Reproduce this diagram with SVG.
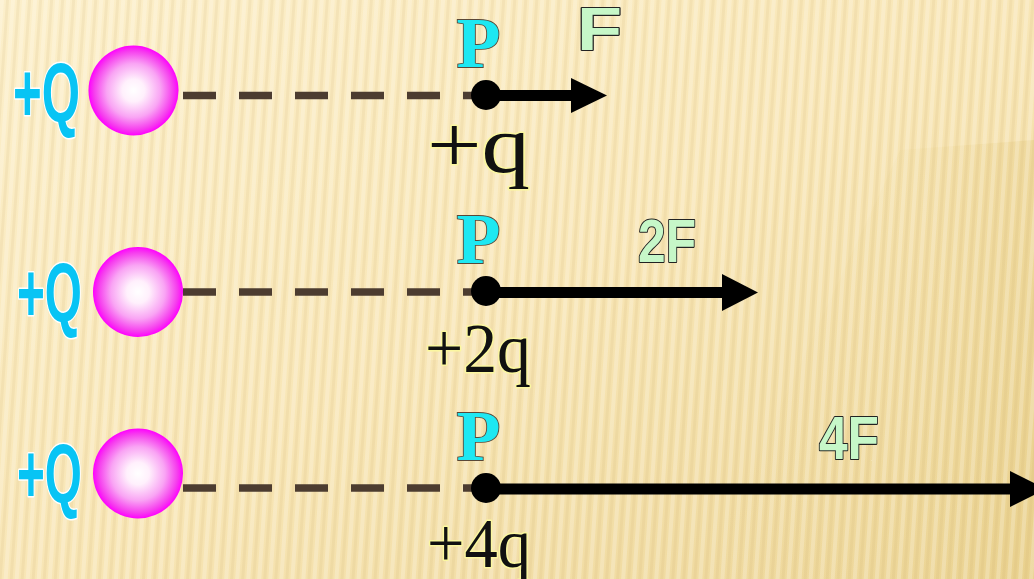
<svg xmlns="http://www.w3.org/2000/svg" width="1034" height="579" viewBox="0 0 1034 579">
<defs>
<style>
.bigq{font-family:"Liberation Sans",Arial,sans-serif;font-weight:bold;font-size:84px;fill:#08c4f4;stroke:#ffffff;stroke-width:3;paint-order:stroke;stroke-linejoin:round}
.plab{font-family:"Liberation Serif","Times New Roman",serif;font-weight:bold;font-size:72px;fill:#1ee8f2;stroke:#5a4838;stroke-width:1.8;paint-order:stroke}
.flab{font-family:"Liberation Sans",Arial,sans-serif;font-weight:bold;font-size:62px;fill:#c6f7c8;stroke:#222222;stroke-width:2.2;paint-order:stroke;stroke-linejoin:round}
.smallq{font-family:"Liberation Serif","Times New Roman",serif;fill:#111111;stroke:#fbf7a0;stroke-width:3;paint-order:stroke;stroke-linejoin:round}
.dash{stroke:#4c3c30;stroke-width:7.5;stroke-dasharray:33 23;fill:none}
.shaft{stroke:#000000;stroke-width:11;fill:none}
.head{fill:#000000}
.dot{fill:#000000}
</style>
<linearGradient id="bg" x1="0" y1="0" x2="1" y2="1">
<stop offset="0" stop-color="#fcefca"/>
<stop offset="0.5" stop-color="#f8e6b6"/>
<stop offset="1" stop-color="#ecd596"/>
</linearGradient>
<linearGradient id="shade" x1="0" y1="0" x2="1" y2="0">
<stop offset="0" stop-color="#e8cf88" stop-opacity="0"/>
<stop offset="0.6" stop-color="#e8cf88" stop-opacity="0.12"/>
<stop offset="1" stop-color="#e3c87c" stop-opacity="0.35"/>
</linearGradient>
<pattern id="stripes" width="11" height="40" patternUnits="userSpaceOnUse" patternTransform="rotate(4)">
<rect x="0" y="0" width="4" height="40" fill="#ffffff" opacity="0.22"/>
<rect x="6" y="0" width="3" height="40" fill="#c9a860" opacity="0.12"/>
</pattern>
<radialGradient id="ball" cx="0.5" cy="0.5" r="0.5">
<stop offset="0" stop-color="#ffffff"/>
<stop offset="0.25" stop-color="#fff0fc"/>
<stop offset="0.6" stop-color="#f9a4f4"/>
<stop offset="0.88" stop-color="#f63cee"/>
<stop offset="1" stop-color="#ff00ff"/>
</radialGradient>
</defs>

<g id="background">
<rect x="0" y="0" width="1034" height="579" fill="url(#bg)"/>
<polygon points="700,579 900,150 1034,140 1034,579" fill="url(#shade)"/>
<rect x="0" y="0" width="1034" height="579" fill="url(#stripes)"/>
</g>

<g id="connectors">
<line class="dash" x1="183" y1="95.5" x2="480" y2="95.5"/>
<line class="dash" x1="183" y1="292" x2="480" y2="292"/>
<line class="dash" x1="183" y1="488" x2="480" y2="488"/>
<line class="shaft" x1="486" y1="95.5" x2="574" y2="95.5"/>
<polygon class="head" points="571,78 607,95.5 571,113"/>
<line class="shaft" x1="486" y1="292.5" x2="725" y2="292.5"/>
<polygon class="head" points="722,274 758,292.5 722,311"/>
<line class="shaft" x1="486" y1="489" x2="1013" y2="489"/>
<polygon class="head" points="1010,471 1046,489 1010,507"/>
</g>

<g id="charge1">
<text class="bigq" x="13" y="122" textLength="67" lengthAdjust="spacingAndGlyphs">+Q</text>
<circle cx="133.5" cy="90.5" r="45" fill="url(#ball)"/>
</g>
<g id="charge2">
<text class="bigq" x="17" y="322" textLength="65" lengthAdjust="spacingAndGlyphs">+Q</text>
<circle cx="138" cy="292" r="45" fill="url(#ball)"/>
</g>
<g id="charge3">
<text class="bigq" x="17" y="503" textLength="65" lengthAdjust="spacingAndGlyphs">+Q</text>
<circle cx="138" cy="473.5" r="45" fill="url(#ball)"/>
</g>

<g id="point1">
<circle class="dot" cx="486" cy="95" r="15"/>
<text class="plab" x="478.5" y="67" text-anchor="middle">P</text>
<text class="smallq" x="427" y="172" font-size="80" textLength="103" lengthAdjust="spacingAndGlyphs">+q</text>
</g>
<g id="point2">
<circle class="dot" cx="486" cy="291" r="15"/>
<text class="plab" x="478.5" y="263" text-anchor="middle">P</text>
<text class="smallq" x="425" y="372" font-size="70" textLength="106" lengthAdjust="spacingAndGlyphs">+2q</text>
</g>
<g id="point3">
<circle class="dot" cx="486" cy="488" r="15"/>
<text class="plab" x="478.5" y="460" text-anchor="middle">P</text>
<text class="smallq" x="427" y="567" font-size="70" textLength="104" lengthAdjust="spacingAndGlyphs">+4q</text>
</g>

<g id="force1">
<text class="flab" x="577" y="50" textLength="45" lengthAdjust="spacingAndGlyphs">F</text>
</g>
<g id="force2">
<text class="flab" x="638" y="262" textLength="58" lengthAdjust="spacingAndGlyphs">2F</text>
</g>
<g id="force3">
<text class="flab" x="819" y="459" textLength="60" lengthAdjust="spacingAndGlyphs">4F</text>
</g>
</svg>
